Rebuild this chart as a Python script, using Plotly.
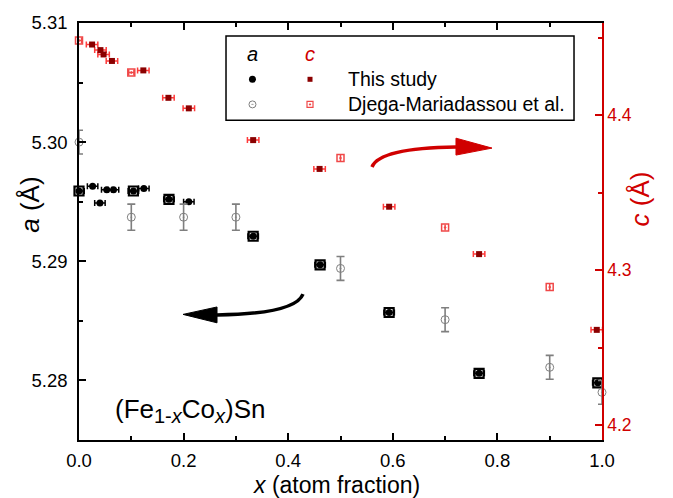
import plotly.graph_objects as go

# ---------------- data ----------------
# Lattice parameter a, this study
a_x = [0.0, 0.026, 0.040, 0.053, 0.066, 0.104, 0.124, 0.172, 0.210, 0.333, 0.461, 0.593, 0.765, 0.992]
a_val = [5.2959, 5.2963, 5.2949, 5.2960, 5.2960, 5.2959, 5.2961, 5.2952, 5.2950, 5.2921, 5.2897, 5.2857, 5.2806, 5.2798]
a_xerr = [0.010] * len(a_x)
a_boxed = [True, False, False, False, False, True, False, True, False, True, True, True, True, True]

# Lattice parameter a, Djega-Mariadassou et al.
ad_x = [0.0, 0.1, 0.2, 0.3, 0.5, 0.7, 0.9, 1.0]
ad_val = [5.3000, 5.2937, 5.2937, 5.2937, 5.2894, 5.2851, 5.2811, 5.2790]
ad_yerr = [0.0010, 0.0011, 0.0011, 0.0011, 0.0010, 0.0010, 0.0010, 0.0010]

# Lattice parameter c, this study
c_x = [0.025, 0.041, 0.047, 0.063, 0.123, 0.171, 0.210, 0.333, 0.460, 0.593, 0.765, 0.990]
c_val = [4.4457, 4.4421, 4.4393, 4.4351, 4.4290, 4.4113, 4.4045, 4.3840, 4.3654, 4.3410, 4.3104, 4.2615]
c_xerr = [0.011] * len(c_x)

# Lattice parameter c, Djega-Mariadassou et al.
cd_x = [0.0, 0.1, 0.5, 0.7, 0.9]
cd_val = [4.4483, 4.4276, 4.3724, 4.3276, 4.2891]
cd_xerr = [0.005, 0.005, 0.0, 0.0, 0.0]

legend_labels = ["This study", "Djega-Mariadassou et al."]

# ---------------- styles ----------------
FONT = "Arial, 'Liberation Sans', sans-serif"
RED_AXIS = "#d00000"
DARK_RED = "#8b0000"
LIGHT_RED = "#f04848"
GRAY = "#7f7f7f"

fig = go.Figure()

# a – this study
fig.add_trace(go.Scatter(
    x=a_x, y=a_val, mode="markers", yaxis="y", cliponaxis=False,
    marker=dict(symbol="circle", size=7, color="black"),
    error_x=dict(type="data", array=a_xerr, color="black", thickness=1.5, width=3),
    showlegend=False, hoverinfo="skip"))
bx = [x for x, b in zip(a_x, a_boxed) if b]
by = [y for y, b in zip(a_val, a_boxed) if b]
fig.add_trace(go.Scatter(
    x=bx, y=by, mode="markers", yaxis="y", cliponaxis=False,
    marker=dict(symbol="square-open", size=9, color="black", line=dict(width=2.2, color="black")),
    showlegend=False, hoverinfo="skip"))

# a – Djega
fig.add_trace(go.Scatter(
    x=ad_x, y=ad_val, mode="markers", yaxis="y", cliponaxis=False,
    marker=dict(symbol="circle-open-dot", size=8, color=GRAY, line=dict(width=1, color=GRAY)),
    error_y=dict(type="data", array=ad_yerr, color=GRAY, thickness=1.6, width=4),
    showlegend=False, hoverinfo="skip"))

# c – this study
fig.add_trace(go.Scatter(
    x=c_x, y=c_val, mode="markers", yaxis="y2", cliponaxis=False,
    marker=dict(symbol="square", size=6, color=DARK_RED),
    error_x=dict(type="data", array=c_xerr, color="#ff3a3a", thickness=1.5, width=3),
    showlegend=False, hoverinfo="skip"))

# c – Djega
fig.add_trace(go.Scatter(
    x=cd_x, y=cd_val, mode="markers", yaxis="y2", cliponaxis=False,
    marker=dict(symbol="square-open-dot", size=7, color=LIGHT_RED, line=dict(width=1.5, color=LIGHT_RED)),
    error_x=dict(type="data", array=cd_xerr, color=LIGHT_RED, thickness=1.5, width=3),
    showlegend=False, hoverinfo="skip"))

# ---------------- hand-made legend ----------------
LEG_COL_A, LEG_COL_C, LEG_TXT = 0.3317, 0.4417, 0.5105
LEG_ROW_H, LEG_ROW_1, LEG_ROW_2 = 0.9245, 0.865, 0.8048

fig.add_trace(go.Scatter(
    x=[LEG_COL_A], y=[LEG_ROW_1], xaxis="x2", yaxis="y3", mode="markers",
    marker=dict(symbol="circle", size=7, color="black"), showlegend=False, hoverinfo="skip"))
fig.add_trace(go.Scatter(
    x=[LEG_COL_C], y=[LEG_ROW_1], xaxis="x2", yaxis="y3", mode="markers",
    marker=dict(symbol="square", size=5, color=DARK_RED), showlegend=False, hoverinfo="skip"))
fig.add_trace(go.Scatter(
    x=[LEG_COL_A], y=[LEG_ROW_2], xaxis="x2", yaxis="y3", mode="markers",
    marker=dict(symbol="circle-open-dot", size=7, color=GRAY, line=dict(width=1, color=GRAY)),
    showlegend=False, hoverinfo="skip"))
fig.add_trace(go.Scatter(
    x=[LEG_COL_C], y=[LEG_ROW_2], xaxis="x2", yaxis="y3", mode="markers",
    marker=dict(symbol="square-open-dot", size=6, color=LIGHT_RED, line=dict(width=1.2, color=LIGHT_RED)),
    showlegend=False, hoverinfo="skip"))

SUB = "<sub><span style='font-size:20px'>{}</span></sub>"
formula = "(Fe" + SUB.format("1-<i>x</i>") + "Co" + SUB.format("<i>x</i>") + ")Sn"

annotations = [
    dict(x=LEG_COL_A, y=LEG_ROW_H, text="<i>a</i>", font=dict(size=20, color="black")),
    dict(x=LEG_COL_C, y=LEG_ROW_H, text="<i>c</i>", font=dict(size=20, color=RED_AXIS)),
    dict(x=LEG_TXT, y=LEG_ROW_1, text=legend_labels[0], xanchor="left", font=dict(size=19.5, color="black")),
    dict(x=LEG_TXT, y=LEG_ROW_2, text=legend_labels[1], xanchor="left", font=dict(size=19.5, color="black")),
    dict(x=0.0650, y=0.07, text=formula, xanchor="left", font=dict(size=26, color="black")),
    # axis titles
    dict(x=0.4914, y=-0.1071, text="<i>x</i> (atom fraction)", font=dict(size=23, color="black")),
    dict(x=-0.0937, y=0.564, text="<i>a</i> (Å)", textangle=-90, font=dict(size=26, color="black")),
    dict(x=1.0727, y=0.577, text="<i>c</i> (Å)", textangle=-90, font=dict(size=26, color=RED_AXIS)),
]
for an in annotations:
    an.update(xref="paper", yref="paper", showarrow=False, font_family=FONT)
    an.setdefault("xanchor", "center")
    an["yanchor"] = "middle"

shapes = [
    # legend box
    dict(type="rect", xref="paper", yref="paper", x0=0.2811, x1=0.9465, y0=0.7667, y1=0.969,
         line=dict(color="black", width=1.5)),
    # red curved arrow
    dict(type="path", xref="paper", yref="paper",
         path="M 0.5602 0.6548 Q 0.5755 0.700 0.7208 0.7024",
         line=dict(color=RED_AXIS, width=3.5)),
    dict(type="path", xref="paper", yref="paper",
         path="M 0.7208 0.7238 L 0.7897 0.700 L 0.7208 0.6833 Z",
         fillcolor=RED_AXIS, line=dict(color=RED_AXIS, width=1)),
    # black curved arrow
    dict(type="path", xref="paper", yref="paper",
         path="M 0.4283 0.350 Q 0.413 0.3024 0.2639 0.300",
         line=dict(color="black", width=3.5)),
    dict(type="path", xref="paper", yref="paper",
         path="M 0.2639 0.319 L 0.1989 0.3012 L 0.2639 0.281 Z",
         fillcolor="black", line=dict(color="black", width=1)),
]

fig.update_layout(
    width=673, height=498,
    margin=dict(l=79, r=71, t=20, b=58),
    paper_bgcolor="white", plot_bgcolor="white",
    font=dict(family=FONT, size=18, color="black"),
    showlegend=False,
    annotations=annotations,
    shapes=shapes,
    xaxis=dict(
        range=[0, 1], dtick=0.2, tick0=0, tickformat=".1f",
        showline=True, linecolor="black", linewidth=1.5, mirror="ticks",
        ticks="inside", ticklen=7, tickwidth=1.5, tickcolor="black",
        minor=dict(dtick=0.1, ticks="inside", ticklen=4, tickwidth=1.5, tickcolor="black"),
        showgrid=False, zeroline=False,
        tickfont=dict(size=18.5), ticklabelstandoff=3,
    ),
    yaxis=dict(
        range=[5.275, 5.31], dtick=0.01, tick0=5.28, tickformat=".2f",
        showline=True, linecolor="black", linewidth=1.5,
        ticks="inside", ticklen=7, tickwidth=1.5, tickcolor="black",
        minor=dict(dtick=0.005, ticks="inside", ticklen=4, tickwidth=1.5, tickcolor="black"),
        showgrid=False, zeroline=False,
        tickfont=dict(size=18.5), ticklabelstandoff=6,
    ),
    yaxis2=dict(
        overlaying="y", side="right",
        range=[4.1904, 4.4596], dtick=0.1, tick0=4.2, tickformat=".1f",
        showline=True, linecolor=RED_AXIS, linewidth=1.5,
        ticks="inside", ticklen=7, tickwidth=1.5, tickcolor=RED_AXIS,
        minor=dict(dtick=0.05, ticks="inside", ticklen=4, tickwidth=1.5, tickcolor=RED_AXIS),
        showgrid=False, zeroline=False,
        tickfont=dict(size=17.5, color=RED_AXIS),
    ),
    xaxis2=dict(overlaying="x", range=[0, 1], visible=False),
    yaxis3=dict(overlaying="y", range=[0, 1], visible=False),
)

fig.write_html("out.html")
